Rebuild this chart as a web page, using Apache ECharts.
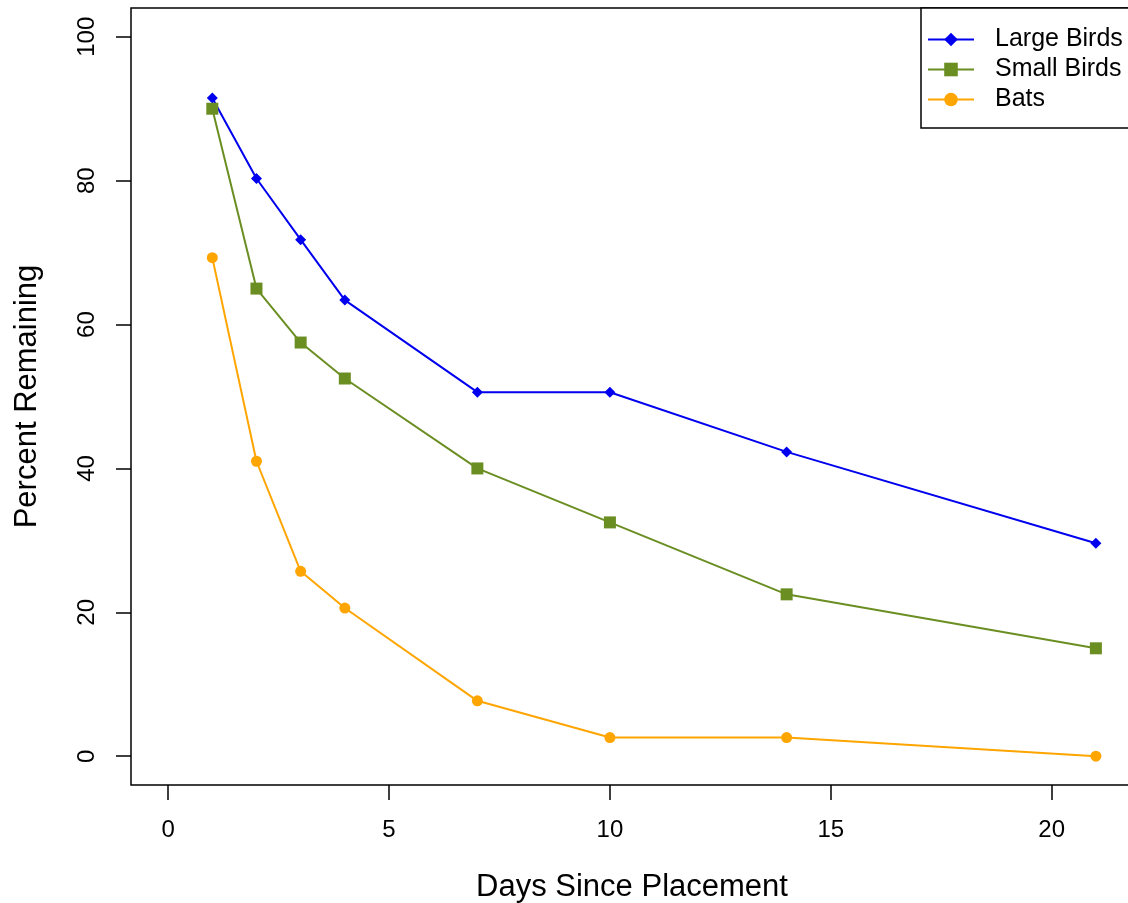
<!DOCTYPE html>
<html><head><meta charset="utf-8">
<script src="https://cdn.jsdelivr.net/npm/echarts@6/dist/echarts.min.js"></script>
<style>html,body{margin:0;padding:0;background:#fff}#c{width:1128px;height:903px}</style>
</head><body><div id="c"></div>
<script>
const days = [1, 2, 3, 4, 7, 10, 14, 21];
const largeBirds = [91.5, 80.3, 71.8, 63.4, 50.6, 50.6, 42.3, 29.6];
const smallBirds = [90.0, 65.0, 57.5, 52.5, 40.0, 32.5, 22.5, 15.0];
const bats = [69.3, 41.0, 25.7, 20.6, 7.7, 2.6, 2.6, 0.0];
const xTicks = [0, 5, 10, 15, 20];
const yTicks = [0, 20, 40, 60, 80, 100];
const seriesNames = ['Large Birds', 'Small Birds', 'Bats'];

const font = 'Liberation Sans, Arial, sans-serif';
const pairs = arr => days.map((d, i) => [d, arr[i]]);
const chart = echarts.init(document.getElementById('c'), null, {renderer: 'canvas'});
const mk = (name, data, color, symbol, size) => ({
  name, type: 'line', data: pairs(data), symbol, symbolSize: size,
  showAllSymbol: true, animation: false,
  lineStyle: {color, width: 2}, itemStyle: {color}
});
chart.setOption({
  animation: false,
  textStyle: {fontFamily: font},
  grid: {left: 131, top: 8, width: 1002, height: 777, show: true, borderColor: '#000', borderWidth: 1.5, backgroundColor: 'transparent', containLabel: false, outerBoundsMode: 'none'},
  xAxis: {
    type: 'value', min: -0.84, max: 21.84,
    name: 'Days Since Placement', nameLocation: 'middle', nameGap: 87,
    nameTextStyle: {fontSize: 31, color: '#000', fontFamily: font},
    axisLine: {show: false, onZero: false},
    splitLine: {show: false},
    axisTick: {show: true, inside: false, length: 15, customValues: xTicks, lineStyle: {color: '#000', width: 1.5}},
    axisLabel: {show: true, customValues: xTicks, margin: 33, fontSize: 24, color: '#000', fontFamily: font}
  },
  yAxis: {
    type: 'value', min: -4, max: 104,
    name: 'Percent Remaining', nameLocation: 'middle', nameGap: 88,
    nameTextStyle: {fontSize: 31, color: '#000', fontFamily: font},
    axisLine: {show: false, onZero: false},
    splitLine: {show: false},
    axisTick: {show: true, inside: false, length: 15, customValues: yTicks, lineStyle: {color: '#000', width: 1.5}},
    axisLabel: {show: true, customValues: yTicks, rotate: 90, margin: 44, fontSize: 24, color: '#000', fontFamily: font, align: 'center', verticalAlign: 'middle'}
  },
  legend: {
    show: true, orient: 'vertical', left: 921, top: 8,
    data: seriesNames,
    itemWidth: 46, itemHeight: 17, itemGap: 5,
    padding: [19, 30, 16, 6],
    backgroundColor: '#fff', borderColor: '#000', borderWidth: 1.5, borderRadius: 0,
    textStyle: {fontSize: 25, color: '#000', fontFamily: font, lineHeight: 25, padding: [0, 0, 0, 16]}
  },
  series: [
    mk(seriesNames[0], largeBirds, '#0000ee', 'diamond', 11),
    mk(seriesNames[1], smallBirds, '#6b8e23', 'rect', 12),
    mk(seriesNames[2], bats, '#ffa500', 'circle', 11)
  ]
});
</script></body></html>
